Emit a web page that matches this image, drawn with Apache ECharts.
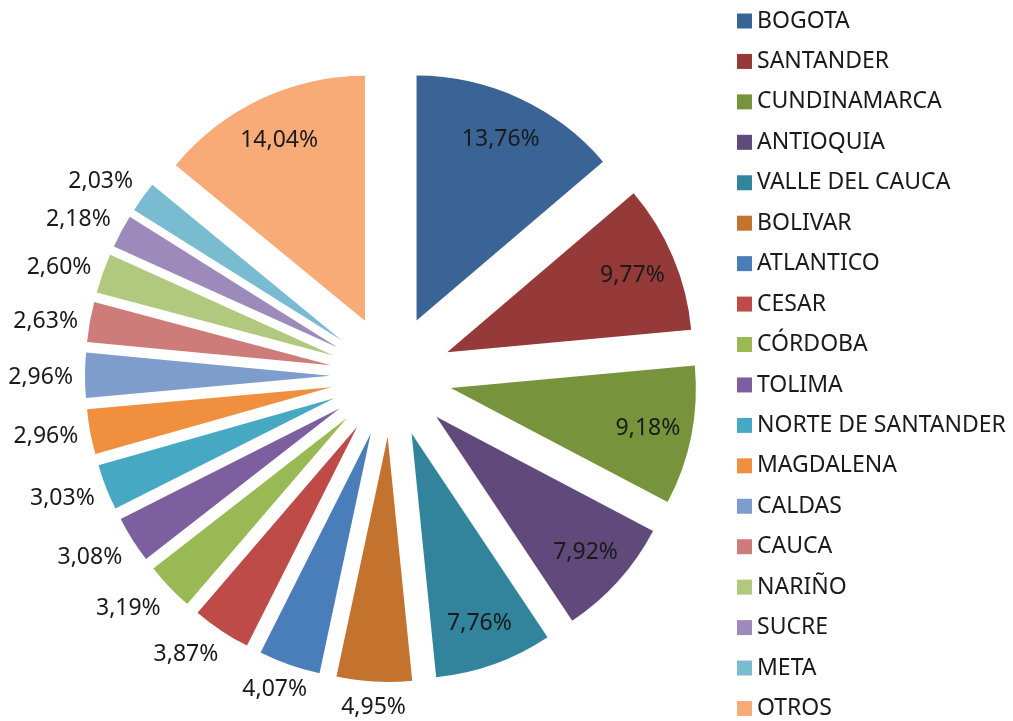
<!DOCTYPE html>
<html>
<head>
<meta charset="utf-8">
<script src="https://cdn.jsdelivr.net/npm/echarts@6/dist/echarts.min.js"></script>
<style>
  html, body { margin: 0; padding: 0; background: #fff; }
  #chart { width: 1013px; height: 721px; }
</style>
</head>
<body>
<div id="chart"></div>
<script>
// departamentos y su participación (%)
const categories = ['BOGOTA', 'SANTANDER', 'CUNDINAMARCA', 'ANTIOQUIA', 'VALLE DEL CAUCA', 'BOLIVAR',
  'ATLANTICO', 'CESAR', 'CÓRDOBA', 'TOLIMA', 'NORTE DE SANTANDER', 'MAGDALENA',
  'CALDAS', 'CAUCA', 'NARIÑO', 'SUCRE', 'META', 'OTROS']
const shares = [13.76, 9.77, 9.18, 7.92, 7.76, 4.95, 4.07, 3.87, 3.19, 3.08, 3.03, 2.96,
  2.96, 2.63, 2.60, 2.18, 2.03, 14.04]
const colors = ['#3B6496', '#953A38', '#77933C', '#604A7B', '#31849B', '#C4732F',
  '#4A7EBB', '#BE4B48', '#98B954', '#7D5FA0', '#46A8C3', '#F0903F',
  '#7E9DCC', '#CE7C7A', '#B0C97F', '#9D89BA', '#79BCD1', '#F8AB77']

const FONT = 'Noto Sans'
const TEXT = '#1a1a1a'
const CX = 391, CY = 376, R = 245, EXPLODE = 61

const total = shares.reduce((a, b) => a + b, 0)

// dirección del centro de cada porción (desde las 12, sentido horario)
function sliceDir(i) {
  let before = 0
  for (let k = 0; k < i; k++) before += shares[k]
  const ang = (before + shares[i] / 2) / total * Math.PI * 2
  return { x: Math.sin(ang), y: -Math.cos(ang) }
}
// cuánto se corre la etiqueta exterior hacia afuera según la dirección
function push(v) {
  const f = Math.max(0, Math.min(1, (Math.abs(v) - 0.2) * 2.5))
  return v < 0 ? -f : f
}

const chart = echarts.init(document.getElementById('chart'))
const option = {
  animation: false,
  backgroundColor: '#fff',
  color: colors,
  legend: {
    data: categories,
    orient: 'vertical',
    left: 737,
    top: 9.5,
    height: 730,
    padding: 0,
    icon: 'rect',
    itemWidth: 15,
    itemHeight: 15,
    itemGap: 17.44,
    selectedMode: false,
    textStyle: { fontFamily: FONT, fontSize: 23, color: TEXT, lineHeight: 22 }
  },
  series: [{
    // porciones separadas
    type: 'pie',
    center: [CX, CY],
    radius: R,
    startAngle: 90,
    clockwise: true,
    selectedMode: 'multiple',
    selectedOffset: EXPLODE,
    silent: true,
    itemStyle: { borderWidth: 0 },
    select: { itemStyle: { borderWidth: 0 } },
    emphasis: { disabled: true },
    label: { show: false },
    labelLine: { show: false },
    data: categories.map((name, i) => ({ name: name, value: shares[i], selected: true }))
  }, {
    // solo etiquetas
    type: 'pie',
    center: [CX, CY],
    radius: R,
    startAngle: 90,
    clockwise: true,
    silent: true,
    avoidLabelOverlap: false,
    itemStyle: { color: 'rgba(0,0,0,0)', borderWidth: 0 },
    emphasis: { disabled: true },
    label: {
      position: 'inside',
      fontFamily: FONT,
      fontSize: 23,
      color: TEXT,
      formatter: p => p.value.toFixed(2).replace('.', ',') + '%'
    },
    labelLine: { show: false },
    labelLayout: function (params) {
      const i = params.dataIndex
      const d = sliceDir(i)
      const w = params.labelRect.width, h = params.labelRect.height
      let x, y
      if (shares[i] >= 6) {
        x = CX + d.x * (EXPLODE + 201)
        y = CY + d.y * (EXPLODE + 201) + 1
      } else {
        const dist = EXPLODE + R + 12
        x = CX + d.x * dist + push(d.x) * w / 2
        y = CY + d.y * dist + push(d.y) * h / 2 + 2
      }
      return { x: x, y: y, align: 'center', verticalAlign: 'middle' }
    },
    data: categories.map((name, i) => ({ name: name, value: shares[i] }))
  }]
}
chart.setOption(option)
</script>
</body>
</html>
